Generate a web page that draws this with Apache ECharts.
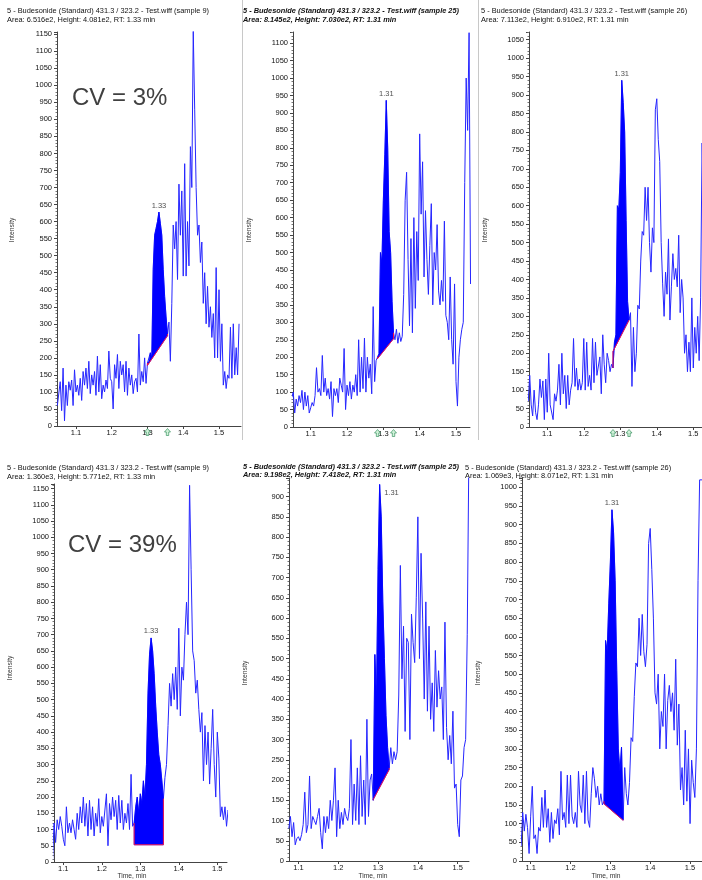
<!DOCTYPE html>
<html><head><meta charset="utf-8">
<script src="https://cdn.jsdelivr.net/npm/echarts@6/dist/echarts.min.js"></script>
<style>html,body{margin:0;padding:0;background:#fff}#c{width:702px;height:880px}</style>
</head><body><div id="c"></div>
<script>
// shared sampling grid (min)
const times = [
1.048,1.052,1.056,1.060,1.064,1.068,1.072,1.076,1.080,1.084,
1.088,1.092,1.096,1.100,1.104,1.108,1.112,1.116,1.120,1.124,
1.128,1.132,1.136,1.140,1.144,1.148,1.152,1.156,1.160,1.164,
1.168,1.172,1.176,1.180,1.184,1.188,1.192,1.196,1.200,1.204,
1.208,1.212,1.216,1.220,1.224,1.228,1.232,1.236,1.240,1.244,
1.248,1.252,1.256,1.260,1.264,1.268,1.272,1.276,1.280,1.284,
1.288,1.292,1.296,1.300,1.304,1.308,1.312,1.316,1.320,1.324,
1.328,1.332,1.336,1.340,1.344,1.348,1.352,1.356,1.360,1.364,
1.368,1.372,1.376,1.380,1.384,1.388,1.392,1.396,1.400,1.404,
1.408,1.412,1.416,1.420,1.424,1.428,1.432,1.436,1.440,1.444,
1.448,1.452,1.456,1.460,1.464,1.468,1.472,1.476,1.480,1.484,
1.488,1.492,1.496,1.500,1.504,1.508,1.512,1.516,1.520,1.524,
1.528,1.532,1.536,1.540,1.544,1.548,1.552,1.556];

const xTicks = [1.1, 1.2, 1.3, 1.4, 1.5];

// sample 9 (CV = 3%)
const intensity1 = [
60,65,130,45,170,15,120,60,130,105,
135,60,165,100,120,90,140,75,160,120,
170,110,190,95,150,120,160,90,205,100,
180,80,120,100,135,110,220,140,130,50,
180,140,210,110,190,150,180,100,190,90,
170,120,150,95,130,140,100,270,120,160,
130,200,125,185,190,215,200,460,560,580,
600,628,595,560,460,380,320,270,305,190,
360,590,520,600,430,710,560,690,440,770,
440,600,470,820,700,1160,930,700,560,590,
480,540,360,450,300,410,290,350,260,330,
200,465,200,400,190,300,120,160,110,150,
140,290,140,300,150,230,150,300];
// sample 25
const intensity2 = [
85,100,40,80,60,90,70,105,50,100,
60,90,40,55,70,60,90,170,100,110,
90,205,100,140,90,110,80,130,30,110,
90,110,70,140,120,100,225,50,120,90,
130,80,120,100,150,90,250,100,200,110,
255,100,200,140,180,95,345,130,190,200,
210,500,470,650,780,936,800,560,500,360,
270,250,280,240,270,245,260,380,650,730,
480,290,540,270,600,340,560,420,840,610,
760,430,620,480,380,520,640,350,500,450,
580,390,350,420,360,590,320,300,250,430,
250,180,410,130,60,200,250,280,300,700,
1000,850,1130,410,420,400,400,400];
// sample 26
const intensity3 = [
70,140,60,30,100,40,20,60,130,80,
125,20,130,40,200,60,65,20,90,70,
100,170,60,200,90,140,50,140,60,100,
120,240,110,160,100,130,100,120,240,100,
230,110,140,100,240,120,230,140,135,190,
90,250,170,120,200,180,150,170,160,230,
250,600,590,690,940,880,800,560,340,290,
310,110,270,150,200,330,320,450,530,520,
650,560,650,500,420,540,500,860,890,780,
720,500,390,300,420,360,510,290,380,470,
400,430,380,520,310,400,350,200,250,150,
230,150,350,160,270,200,300,180,350,770,
600,600,600,600,600,600,600,600];
// sample 9 (CV = 39%)
const intensity4 = [
null,null,null,null,null,null,5,120,60,130,
100,140,110,70,50,170,90,120,90,130,
100,70,150,100,170,120,200,110,180,80,
190,100,170,80,150,110,195,90,140,110,
160,210,50,180,130,200,140,190,100,205,
120,190,100,150,120,180,100,270,110,120,
170,200,150,210,180,250,200,300,520,640,
690,650,580,480,400,330,300,250,195,260,
300,420,550,480,580,500,600,470,720,450,
600,560,700,800,700,1160,900,650,620,520,
560,470,400,460,250,420,300,400,240,350,
470,300,200,400,320,140,170,130,170,110,
160,150,150,150,150,150,150,150];
// sample 25
const intensity5 = [
null,null,null,null,null,null,null,80,110,60,
95,40,55,60,50,65,90,170,70,90,
210,80,110,100,90,110,130,70,30,110,
70,110,80,150,100,150,230,60,150,80,
120,90,130,110,100,130,300,90,190,100,
230,90,260,110,200,90,350,110,200,215,
150,510,400,720,930,850,640,500,360,280,
230,280,240,270,250,270,410,730,450,580,
320,550,540,300,610,540,490,650,850,500,
760,600,400,640,370,580,350,440,320,520,
380,470,400,430,300,590,330,250,310,240,
370,180,190,90,60,200,210,280,300,560,
1000,1000,1000,1000,1000,1000,1000,1000];
// sample 26
const intensity6 = [
null,null,null,null,null,null,null,40,130,80,
125,90,20,120,200,60,70,20,90,80,
170,90,190,90,140,50,130,60,110,100,
140,70,240,110,130,90,230,100,230,120,
100,130,90,240,150,130,230,100,240,110,
90,180,250,220,170,200,150,180,150,160,
590,560,690,800,940,880,750,510,300,240,
305,110,250,180,150,210,330,320,440,530,
520,650,550,660,560,520,580,850,890,780,
650,450,420,500,300,400,360,500,300,430,
470,400,450,350,540,310,420,190,250,150,
350,160,300,100,270,210,170,300,750,1020,
1020,1020,1020,1020,1020,1020,1020,1020];

const panels = [intensity1, intensity2, intensity3, intensity4, intensity5, intensity6];

// integration baseline [time, intensity] start / end
const baseStart = [[1.300,178],[1.284,196],[1.280,205],[1.284,53],[1.288,152],[1.284,153]];
const baseEnd   = [[1.356,265],[1.328,253],[1.324,290],[1.360,53],[1.328,226],[1.332,109]];
const rtLabels = ['1.33','1.31','1.31','1.33','1.31','1.31'];

const titleLine1 = [
 '5 - Budesonide (Standard) 431.3 / 323.2 - Test.wiff (sample 9)',
 '5 - Budesonide (Standard) 431.3 / 323.2 - Test.wiff (sample 25)',
 '5 - Budesonide (Standard) 431.3 / 323.2 - Test.wiff (sample 26)',
 '5 - Budesonide (Standard) 431.3 / 323.2 - Test.wiff (sample 9)',
 '5 - Budesonide (Standard) 431.3 / 323.2 - Test.wiff (sample 25)',
 '5 - Budesonide (Standard) 431.3 / 323.2 - Test.wiff (sample 26)'];
const titleLine2 = [
 'Area: 6.516e2, Height: 4.081e2, RT: 1.33 min',
 'Area: 8.145e2, Height: 7.030e2, RT: 1.31 min',
 'Area: 7.113e2, Height: 6.910e2, RT: 1.31 min',
 'Area: 1.360e3, Height: 5.771e2, RT: 1.33 min',
 'Area: 9.198e2, Height: 7.418e2, RT: 1.31 min',
 'Area: 1.069e3, Height: 8.071e2, RT: 1.31 min'];
const cvLabels = ['CV = 3%', 'CV = 39%'];

// ---- layout (not data) ----
const FF = '"Liberation Sans", Arial, sans-serif';
const grids = [
 {left:57, top:32, width:184, height:394},
 {left:293, top:32, width:177, height:395},
 {left:529, top:32, width:173, height:395},
 {left:54, top:484, width:173, height:378},
 {left:289, top:478, width:180, height:383},
 {left:522, top:478, width:180, height:383}];
const xRange = [[1.047,1.5615],[1.0513,1.5385],[1.05,1.5238],[1.0758,1.5252],[1.0764,1.5284],[1.0782,1.530]];
const yMax = [1156.5, 1132, 1071, 1164, 946, 1025];
const titlePos = [[7,11,19.5],[243,11,19.5],[481,11,19.5],[7,468,476.5],[243,466.5,475],[465,467.5,475.5]];
const boldTitle = [false,true,false,false,true,false];
const intensityPos = [[12,230],[249,230],[485,230],[10,668],[245,673],[478,673]];
const timePos = [null,null,null,[132,876],[373,876],[606,876]];

const LINE = '#2626ff';
const arrowPath = 'path://M5,0 L10,5 L7,5 L7,10 L3,10 L3,5 L0,5 Z';

function apexOf(vals, s, e) {
  let bi = -1;
  for (let i = 0; i < times.length; i++) {
    if (vals[i] == null) continue;
    if (times[i] >= s - 1e-9 && times[i] <= e + 1e-9 && (bi < 0 || vals[i] > vals[bi])) bi = i;
  }
  return [times[bi], vals[bi]];
}

const xAxis = [], yAxis = [], series = [], graphic = [];
for (let k = 0; k < 6; k++) {
  const vals = panels[k];
  xAxis.push({type:'value', gridIndex:k, min:xRange[k][0], max:xRange[k][1],
    axisLine:{show:true, onZero:false, lineStyle:{color:'#444', width:1}},
    axisTick:{show:true, customValues:xTicks, length:3, lineStyle:{color:'#444'}},
    axisLabel:{customValues:xTicks, formatter:v=>Number(v).toFixed(1), fontSize:7.5, fontFamily:FF, color:'#111', margin:3},
    splitLine:{show:false}});
  yAxis.push({type:'value', gridIndex:k, min:0, max:yMax[k], interval:50,
    axisLine:{show:true, lineStyle:{color:'#444', width:1}},
    axisTick:{show:true, length:3, lineStyle:{color:'#444'}},
    minorTick:{show:true, splitNumber:5, length:1.5, lineStyle:{color:'#777'}},
    axisLabel:{formatter:v=>(Math.abs(v % 50) < 1e-6 ? String(Math.round(v)) : ''), fontSize:7.5, fontFamily:FF, color:'#111', margin:5},
    splitLine:{show:false}, minorSplitLine:{show:false}});

  series.push({type:'line', xAxisIndex:k, yAxisIndex:k, data:times.map((t,i)=>[t, vals[i]]),
    showSymbol:false, symbol:'none', lineStyle:{color:LINE, width:1}, itemStyle:{color:LINE},
    animation:false, silent:true, z:3, clip:true});

  const s = baseStart[k], e = baseEnd[k];
  series.push({type:'custom', xAxisIndex:k, yAxisIndex:k, z:5, silent:true, animation:false,
    data:[[s[0], s[1]]],
    renderItem:function(params, api){
      const pts = [api.coord(s)];
      for (let i = 0; i < times.length; i++) {
        if (vals[i] != null && times[i] >= s[0]-1e-9 && times[i] <= e[0]+1e-9) pts.push(api.coord([times[i], vals[i]]));
      }
      pts.push(api.coord(e));
      const first = pts[1], last = pts[pts.length-2];
      return {type:'group', children:[
        {type:'polygon', shape:{points:pts}, style:{fill:'#0000ff', stroke:'#0000ff', lineWidth:0.6}},
        {type:'polyline', shape:{points:[first, pts[0], pts[pts.length-1], last]}, style:{fill:null, stroke:'#f0104a', lineWidth:1}}
      ]};
    }});

  const apex = apexOf(vals, s[0], e[0]);
  series.push({type:'scatter', xAxisIndex:k, yAxisIndex:k, data:[apex], symbolSize:1,
    itemStyle:{color:'rgba(0,0,0,0)'}, silent:true, animation:false, z:10, clip:false,
    label:{show:true, formatter:rtLabels[k], position:(k===4?'right':'top'), distance:(k===4?4:2), offset:(k===4?[0,8]:[0,0]),
      fontSize:7.5, fontFamily:FF, color:'#222'}});

  if (k < 3) {
    series.push({type:'scatter', xAxisIndex:k, yAxisIndex:k, data:[[s[0],0],[e[0],0]], symbol:arrowPath,
      symbolSize:[6,7], symbolOffset:[0,6], itemStyle:{color:'#c6efd0', borderColor:'#2e8b57', borderWidth:0.8},
      silent:true, animation:false, clip:false, z:12});
  }

  const tp = titlePos[k];
  const tfont = (boldTitle[k] ? 'italic bold ' : '') + '7.4px ' + FF;
  graphic.push({type:'text', x:tp[0], y:tp[1], style:{text:titleLine1[k], font:tfont, fill:'#111', textAlign:'left', textVerticalAlign:'middle'}});
  graphic.push({type:'text', x:tp[0], y:tp[2], style:{text:titleLine2[k], font:tfont, fill:'#111', textAlign:'left', textVerticalAlign:'middle'}});
  graphic.push({type:'text', x:intensityPos[k][0], y:intensityPos[k][1], rotation:Math.PI/2,
    style:{text:'Intensity', font:'6.7px ' + FF, fill:'#333', textAlign:'center', textVerticalAlign:'middle'}});
  if (timePos[k]) {
    graphic.push({type:'text', x:timePos[k][0], y:timePos[k][1],
      style:{text:'Time, min', font:'6.7px ' + FF, fill:'#333', textAlign:'center', textVerticalAlign:'middle'}});
  }
}
graphic.push({type:'line', shape:{x1:242.5, y1:0, x2:242.5, y2:440}, style:{stroke:'#c8c8c8', lineWidth:1}});
graphic.push({type:'line', shape:{x1:478.5, y1:0, x2:478.5, y2:440}, style:{stroke:'#c8c8c8', lineWidth:1}});
graphic.push({type:'text', x:72, y:98, style:{text:cvLabels[0], font:'24px ' + FF, fill:'#404040', textAlign:'left', textVerticalAlign:'middle'}});
graphic.push({type:'text', x:68, y:545, style:{text:cvLabels[1], font:'24px ' + FF, fill:'#404040', textAlign:'left', textVerticalAlign:'middle'}});

const chart = echarts.init(document.getElementById('c'), null, {renderer:'canvas'});
chart.setOption({
  backgroundColor:'#ffffff',
  animation:false,
  grid: grids.map(g => Object.assign({containLabel:false, outerBoundsMode:'none'}, g)),
  xAxis, yAxis, series, graphic
});
</script>
</body></html>
